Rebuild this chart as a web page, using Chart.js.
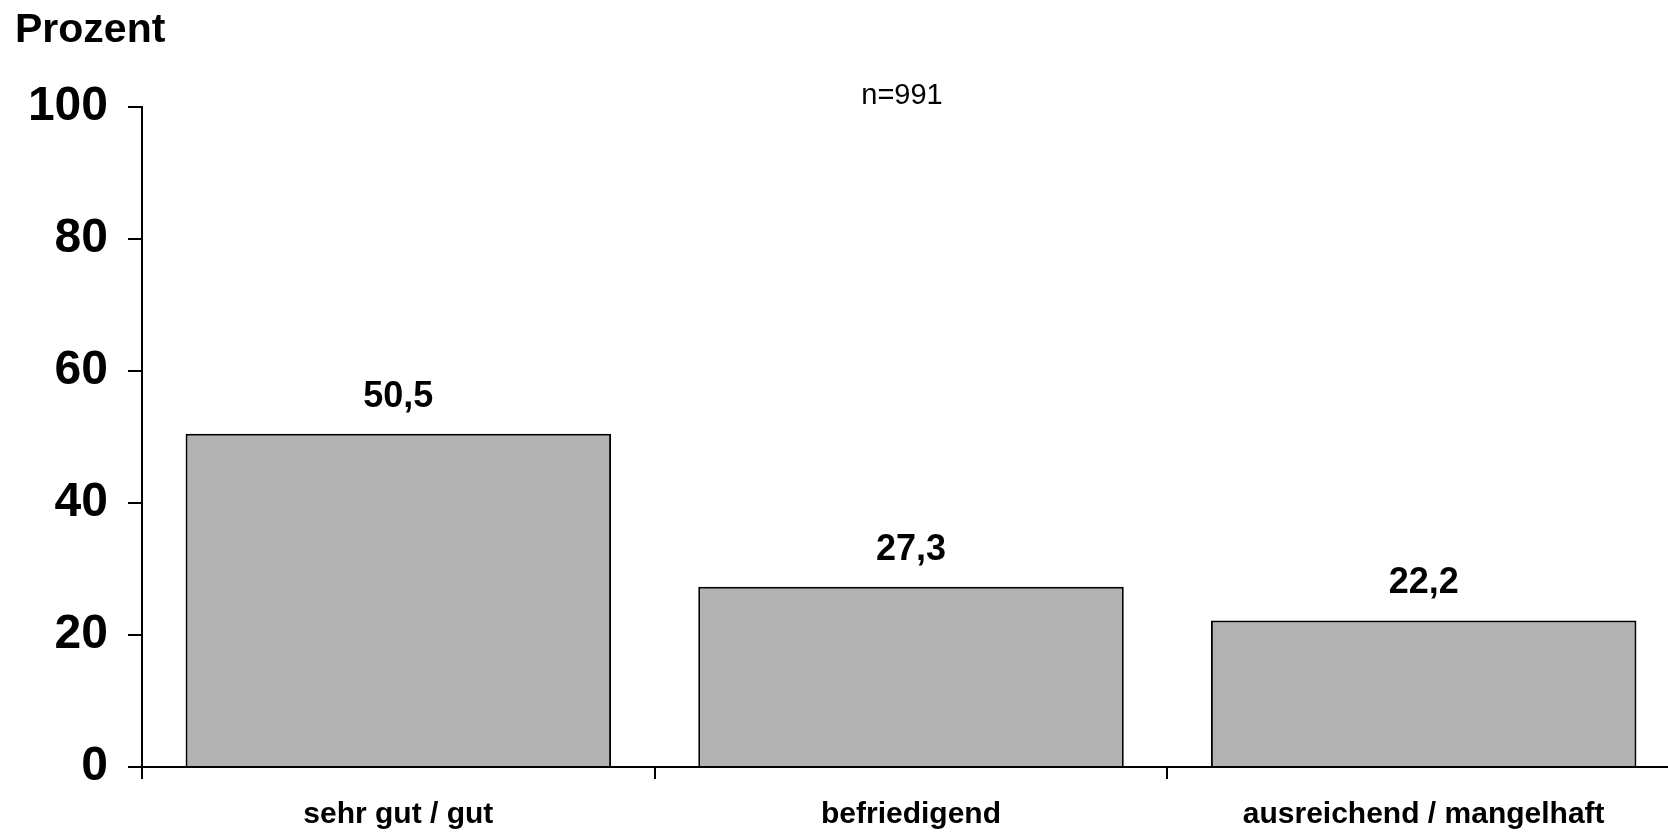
<!DOCTYPE html>
<html>
<head>
<meta charset="utf-8">
<script src="https://cdn.jsdelivr.net/npm/chart.js@4"></script>
<style>
  html, body { margin: 0; padding: 0; background: #fff; overflow: hidden; }
  #wrap { width: 1680px; height: 832px; }
</style>
</head>
<body>
<div id="wrap"><canvas id="myChart"></canvas></div>
<script>
const categories = ["sehr gut / gut", "befriedigend", "ausreichend / mangelhaft"];
const values = [50.5, 27.3, 22.2];
const yTicks = [0, 20, 40, 60, 80, 100];
const sampleNote = "n=991";
const axisTitle = "Prozent";

const FONT = "'Liberation Sans', Arial, sans-serif";

// draws the value labels, the axis title and the n= note
const textPlugin = {
  id: "texts",
  afterDatasetsDraw(chart) {
    const c = chart.ctx;
    const meta = chart.getDatasetMeta(0);
    c.save();
    c.fillStyle = "#000";
    c.textAlign = "center";
    c.textBaseline = "alphabetic";
    c.font = "bold 36px " + FONT;
    meta.data.forEach((bar, i) => {
      c.fillText(values[i].toFixed(1).replace(".", ","), bar.x, bar.y - 27);
    });
    c.textAlign = "left";
    c.font = "bold 41px " + FONT;
    c.fillText(axisTitle, 15, 42);
    c.textAlign = "center";
    c.font = "29px " + FONT;
    c.fillText(sampleNote, 902, 104);
    c.restore();
  },
};

new Chart(document.getElementById("myChart"), {
  type: "bar",
  data: {
    labels: categories,
    datasets: [
      {
        data: values,
        backgroundColor: "#b2b2b2",
        borderColor: "#000",
        borderWidth: 2,
        categoryPercentage: 1,
        barPercentage: 0.83,
      },
    ],
  },
  options: {
    responsive: true,
    maintainAspectRatio: false,
    animation: false,
    devicePixelRatio: 1,
    layout: { padding: { top: 107, left: 0, right: 0, bottom: 0 } },
    plugins: {
      legend: { display: false },
      tooltip: { enabled: false },
    },
    scales: {
      x: {
        grid: {
          offset: true,
          drawOnChartArea: false,
          drawTicks: true,
          tickLength: 12,
          color: "#000",
          lineWidth: 2,
        },
        border: { color: "#000", width: 2 },
        ticks: {
          color: "#000",
          font: { family: FONT, size: 30, weight: "bold" },
          padding: 18,
          maxRotation: 0,
        },
        afterFit(scale) {
          scale.height = 65;
        },
      },
      y: {
        min: 0,
        max: 100,
        afterBuildTicks(scale) {
          scale.ticks = yTicks.map((v) => ({ value: v }));
        },
        grid: {
          drawOnChartArea: false,
          drawTicks: true,
          tickLength: 14,
          color: "#000",
          lineWidth: 2,
        },
        border: { color: "#000", width: 2 },
        ticks: {
          color: "#000",
          font: { family: FONT, size: 48, weight: "bold" },
          padding: 20,
        },
        afterFit(scale) {
          scale.width = 142;
        },
      },
    },
  },
  plugins: [textPlugin],
});
</script>
</body>
</html>
